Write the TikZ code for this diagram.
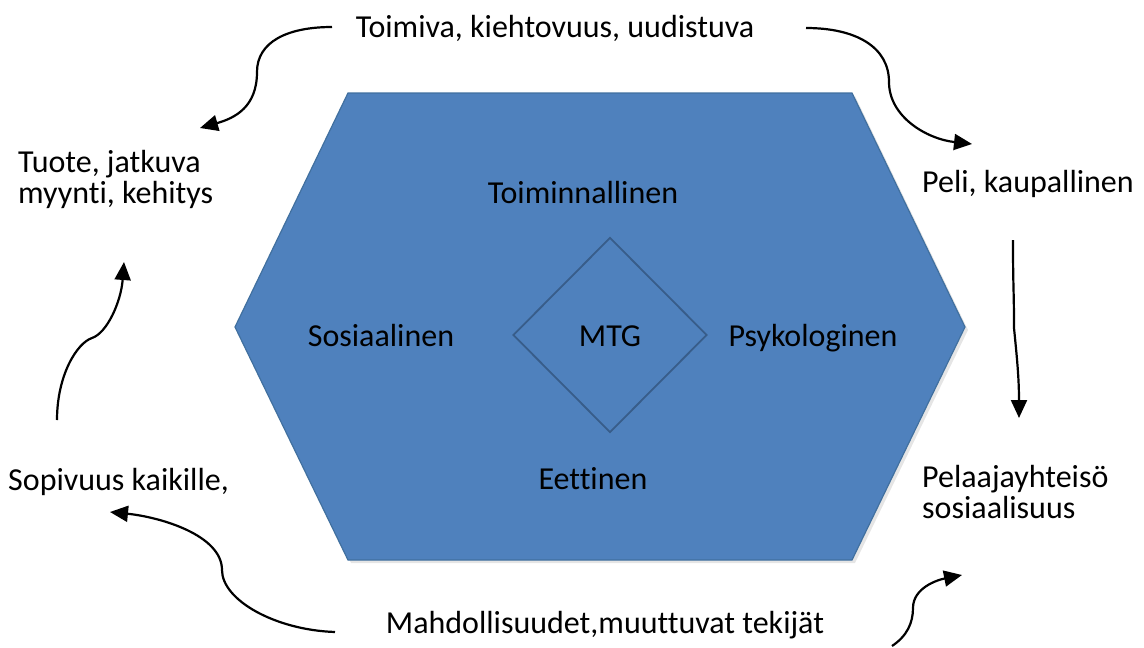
\documentclass[tikz,border=0pt]{standalone}
\usepackage{fontspec}
\setmainfont{Carlito}[Ligatures=NoCommon]
\usetikzlibrary{shapes.geometric,arrows.meta}
\definecolor{hexblue}{HTML}{4F81BD}
\definecolor{hexedge}{HTML}{41709F}
\definecolor{diaedge}{HTML}{385D8A}
\tikzset{
  aspect/.style={anchor=base, inner sep=0pt, font=\fontsize{32}{34}\selectfont},
  outer/.style={anchor=base west, inner sep=0pt, align=left, font=\fontsize{32}{31}\selectfont},
  looparrow/.style={line width=2.2pt, -{Triangle[length=18pt,width=16pt]}},
}

\begin{document}
\begin{tikzpicture}[x=1pt,y=-1pt]
\useasboundingbox (0,0) rectangle (1144,648);

% to draw hexagon
\coordinate (h1) at (348,93);
\coordinate (h2) at (852,93);
\coordinate (h3) at (965,327);
\coordinate (h4) at (852,560);
\coordinate (h5) at (348,560);
\coordinate (h6) at (235,327);
\fill [black!20, opacity=0.5] ([shift={(3,3)}]h1) -- ([shift={(3,3)}]h2) -- ([shift={(3,3)}]h3) -- ([shift={(3,3)}]h4) -- ([shift={(3,3)}]h5) -- ([shift={(3,3)}]h6) -- cycle;
\draw [fill=hexblue, draw=hexedge, line width=1.2pt] (h1) -- (h2) -- (h3) -- (h4) -- (h5) -- (h6) -- cycle;

% centre diamond
\node [diamond, draw=diaedge, line width=1.8pt, minimum width=194pt, minimum height=195pt, inner sep=0pt] (mtgbox) at (610,335) {};
\node [aspect] (mtg) at (610,346) {MTG};

% to write aspects inside hexagon
\node [aspect] (toim) at (583,203) {Toiminnallinen};
\node [aspect] (sos) at (381,346) {Sosiaalinen};
\node [aspect] (psy) at (813,346) {Psykologinen};
\node [aspect] (eet) at (593,489) {Eettinen};

% to write outer texts (base = last line)
\node [aspect] (kieh) at (555,37) {Toimiva, kiehtovuus, uudistuva};
\node [outer] (tuote) at (18,203) {Tuote, jatkuva\\myynti, kehitys};
\node [outer] (peli) at (922,192) {Peli, kaupallinen};
\node [outer] (pelaaja) at (922,518) {Pelaajayhteisö\\sosiaalisuus};
\node [outer] (sopiv) at (8,490) {Sopivuus kaikille,};
\node [aspect] (mahd) at (605,633) {Mahdollisuudet,muuttuvat tekijät};

% to draw curved arrows
\coordinate (a1s) at (332,27);  \coordinate (a1m) at (257,72);  \coordinate (a1e) at (200,128);
\coordinate (a2s) at (806,28);  \coordinate (a2m) at (889,82);  \coordinate (a2e) at (972,144);
\coordinate (a3s) at (1013,240); \coordinate (a3m) at (1014,328); \coordinate (a3e) at (1019,418);
\coordinate (a4s) at (892,646); \coordinate (a4m) at (913,608); \coordinate (a4e) at (962,575);
\coordinate (a5s) at (335,632); \coordinate (a5m) at (222,570); \coordinate (a5e) at (110,512);
\coordinate (a6s) at (57,420);  \coordinate (a6m) at (92,338);  \coordinate (a6e) at (124,262);

\draw [looparrow] (a1s) .. controls +(-45,0) and +(0,-30) .. (a1m) .. controls +(0,35) and +(35,-10) .. (a1e);
\draw [looparrow] (a2s) .. controls +(50,0) and +(0,-35) .. (a2m) .. controls +(0,35) and +(-45,-5) .. (a2e);
\draw [looparrow] (a3s) .. controls +(0,50) and +(0,-40) .. (a3m) .. controls +(3,30) and +(0,-40) .. (a3e);
\draw [looparrow] (a4s) .. controls +(15,-10) and +(0,15) .. (a4m) .. controls +(0,-20) and +(-25,5) .. (a4e);
\draw [looparrow] (a5s) .. controls +(-60,-2) and +(0,30) .. (a5m) .. controls +(0,-35) and +(50,5) .. (a5e);
\draw [looparrow] (a6s) .. controls +(0,-45) and +(-15,5) .. (a6m) .. controls +(15,-5) and +(-3,40) .. (a6e);
\end{tikzpicture}
\end{document}
